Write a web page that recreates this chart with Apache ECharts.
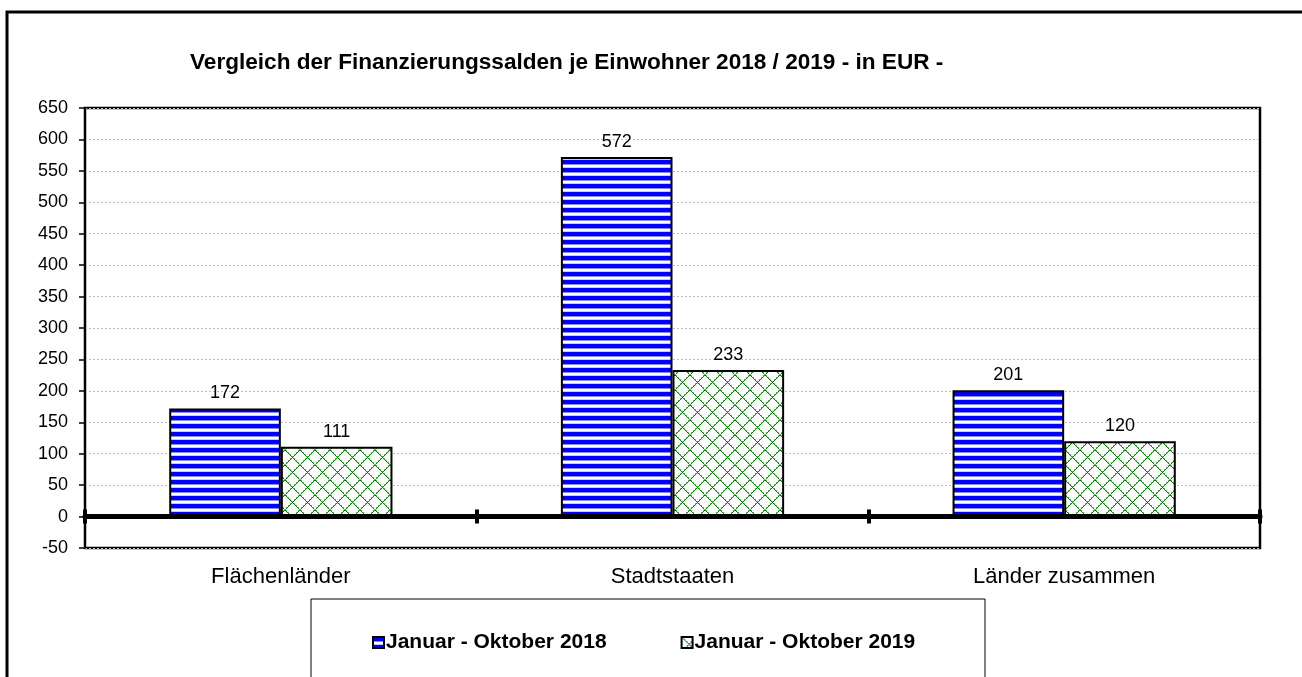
<!DOCTYPE html>
<html>
<head>
<meta charset="utf-8">
<script src="https://cdn.jsdelivr.net/npm/echarts@6/dist/echarts.min.js"></script>
<style>
html,body{margin:0;padding:0;background:#fff;}
#c{width:1302px;height:677px;}
</style>
</head>
<body>
<div id="c"></div>
<script>
var titleText = 'Vergleich der Finanzierungssalden je Einwohner 2018 / 2019 - in EUR -';
var categories = ['Flächenländer', 'Stadtstaaten', 'Länder zusammen'];
var seriesNames = ['Januar - Oktober 2018', 'Januar - Oktober 2019'];
var values2018 = [172, 572, 201];
var values2019 = [111, 233, 120];
var yMin = -50, yMax = 650, yStep = 50;

function stripePattern() {
  var c = document.createElement('canvas');
  c.width = 8; c.height = 8;
  var g = c.getContext('2d');
  g.fillStyle = '#ffffff'; g.fillRect(0, 0, 8, 8);
  g.fillStyle = '#0000ff'; g.fillRect(0, 0, 8, 4);
  g.fillStyle = '#8a8aff'; g.fillRect(0, 4, 8, 1);
  g.fillStyle = '#c8c8ff'; g.fillRect(0, 7, 8, 1);
  return c;
}
function hatchPattern() {
  var n = 15;
  var c = document.createElement('canvas');
  c.width = n; c.height = n;
  var g = c.getContext('2d');
  g.fillStyle = '#ffffff'; g.fillRect(0, 0, n, n);
  for (var i = 0; i < n; i++) {
    var a = i, b = n - 1 - i;
    g.fillStyle = '#008a00';
    g.fillRect(a, i, 1, 1);
    g.fillRect(b, i, 1, 1);
    if (i % 2 === 0) {
      g.fillStyle = '#6cbc6c';
      g.fillRect((a + 1) % n, i, 1, 1);
      g.fillRect((b + n - 1) % n, i, 1, 1);
    }
  }
  g.fillStyle = '#006400';
  g.fillRect(7, 7, 1, 1);
  g.fillRect(0, 0, 1, 1);
  return c;
}

var chart = echarts.init(document.getElementById('c'), null, {renderer: 'canvas'});
var font = '"Liberation Sans", Arial, sans-serif';
var valueAxisBase = {
  type: 'value', min: yMin, max: yMax, interval: yStep
};
chart.setOption({
  animation: false,
  backgroundColor: '#ffffff',
  textStyle: {fontFamily: font},
  graphic: [
    {type: 'rect', shape: {x: 7, y: 12, width: 1320, height: 720}, style: {fill: 'none', stroke: '#000', lineWidth: 3}, z: 100},
    {type: 'rect', shape: {x: 311, y: 599, width: 674, height: 120}, style: {fill: 'none', stroke: '#000', lineWidth: 1}, z: 100},
    {type: 'text', left: 190, top: 51, style: {text: titleText, font: 'bold 22.6px "Liberation Sans", Arial, sans-serif', fill: '#000'}, z: 100}
  ],
  legend: {
    left: 372, top: 632, padding: 0,
    itemWidth: 11, itemHeight: 11, itemGap: 74,
    icon: 'rect',
    textStyle: {fontFamily: font, fontWeight: 'bold', fontSize: 21, color: '#000', padding: [0, 0, 0, -3]},
    data: seriesNames
  },
  grid: {left: 85, right: 42, top: 108, bottom: 129, show: true, borderColor: '#000', borderWidth: 2.5, backgroundColor: 'transparent'},
  xAxis: [
    {type: 'category', data: categories, position: 'bottom',
     axisLine: {show: true, onZero: true, onZeroAxisIndex: 0, lineStyle: {color: '#000', width: 5}},
     axisTick: {show: true, inside: false, length: 7, lineStyle: {color: '#000', width: 4}},
     axisLabel: {show: false}, splitLine: {show: false}, z: 10},
    {type: 'category', data: categories, position: 'bottom',
     axisLine: {show: false, onZero: true, onZeroAxisIndex: 1},
     axisTick: {show: true, inside: true, length: 7, lineStyle: {color: '#000', width: 4}},
     axisLabel: {show: false}, splitLine: {show: false}, z: 10},
    {type: 'category', data: categories, position: 'bottom',
     axisLine: {show: false, onZero: false},
     axisTick: {show: false},
     axisLabel: {show: true, margin: 18, fontSize: 22, color: '#000', fontFamily: font},
     splitLine: {show: false}}
  ],
  yAxis: [
    Object.assign({}, valueAxisBase, {
      axisLine: {show: true, lineStyle: {color: '#000', width: 2}},
      axisTick: {show: true, length: 6, lineStyle: {color: '#000', width: 1.5}},
      axisLabel: {fontSize: 18, color: '#000', margin: 17, fontFamily: font},
      splitLine: {show: true, lineStyle: {color: '#bdbdbd', width: 1, type: [2, 2]}}
    }),
    Object.assign({}, valueAxisBase, {
      position: 'left', show: false,
      axisLine: {show: false}, axisTick: {show: false}, axisLabel: {show: false}, splitLine: {show: false}
    })
  ],
  series: [
    {name: seriesNames[0], type: 'bar', xAxisIndex: 0, yAxisIndex: 0, data: values2018,
     barGap: '0%', barCategoryGap: '43%',
     itemStyle: {color: {image: stripePattern(), repeat: 'repeat'}, borderColor: '#000', borderWidth: 2},
     label: {show: true, position: 'top', distance: 6, fontSize: 18, color: '#000', fontFamily: font}},
    {name: seriesNames[1], type: 'bar', xAxisIndex: 0, yAxisIndex: 0, data: values2019,
     itemStyle: {color: {image: hatchPattern(), repeat: 'repeat'}, borderColor: '#000', borderWidth: 2},
     label: {show: true, position: 'top', distance: 6, fontSize: 18, color: '#000', fontFamily: font}}
  ]
});
</script>
</body>
</html>
